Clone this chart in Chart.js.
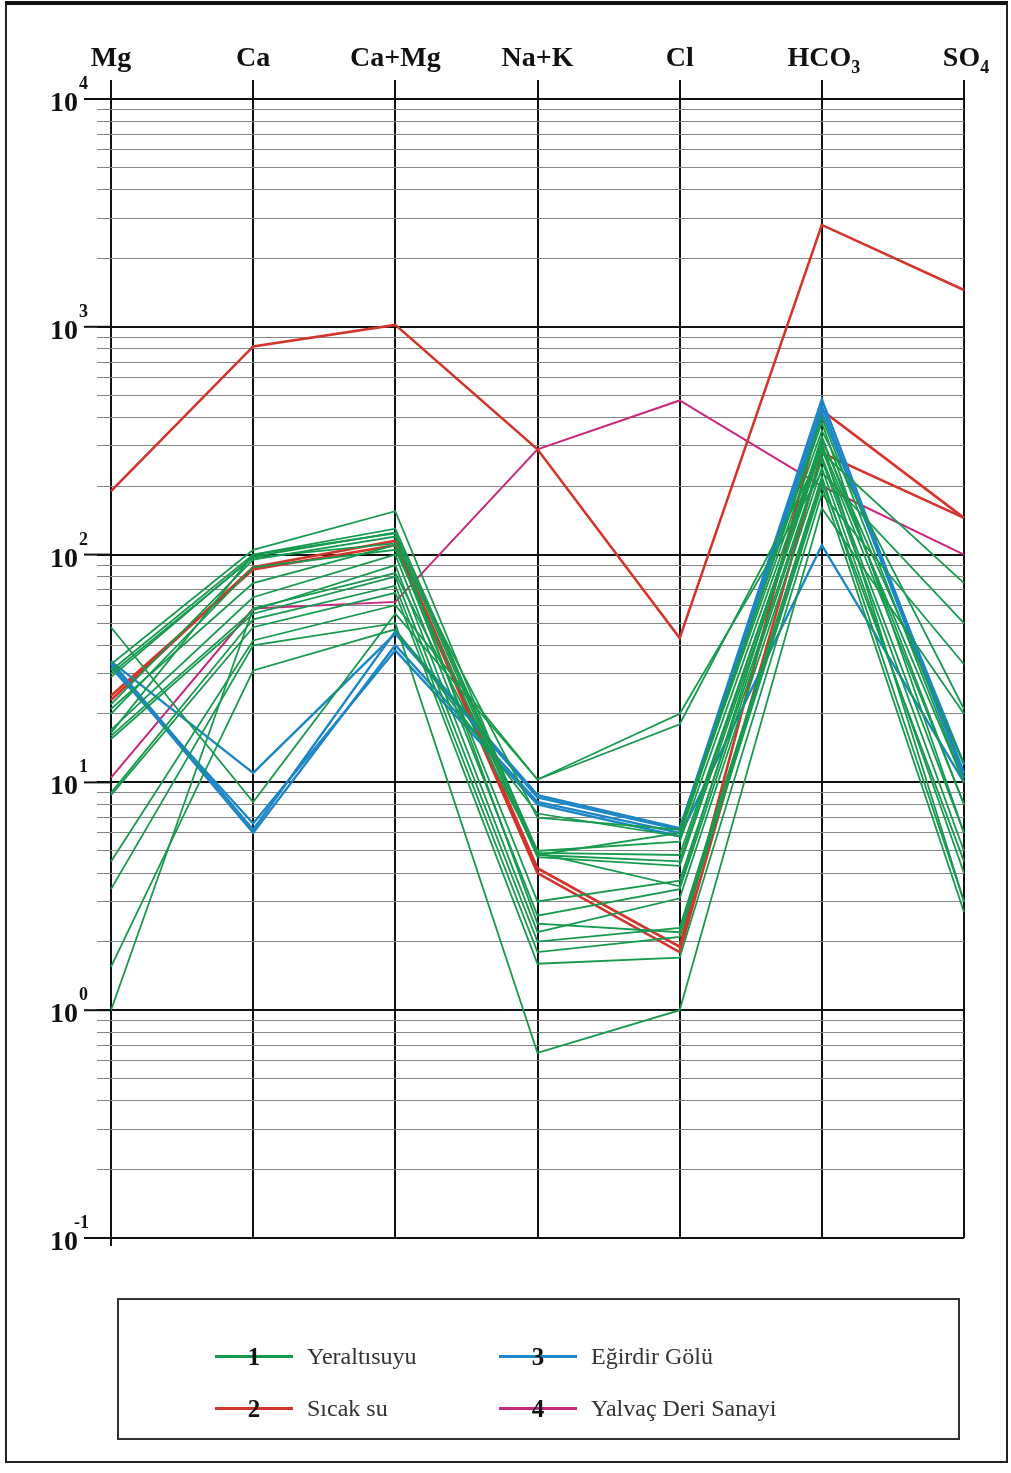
<!DOCTYPE html>
<html>
<head>
<meta charset="utf-8">
<script src="https://cdn.jsdelivr.net/npm/chart.js@4.4.0/dist/chart.umd.min.js"></script>
<style>
  body { margin: 0; background: #fff; }
  #page { position: relative; width: 1011px; height: 1473px; overflow: hidden; background: #fff; }
  #frame { position: absolute; left: 5px; top: 1px; width: 1003px; height: 1462px;
           border: 2px solid #222; border-top: 4px solid #111; box-sizing: border-box; }
  #chart { position: absolute; left: 0; top: 0; }
  #legend { position: absolute; left: 117px; top: 1298px; width: 843px; height: 142px;
            border: 2px solid #333; box-sizing: border-box; font-family: "Liberation Serif", serif; }
  .item { position: absolute; height: 30px; }
  .item .ln { position: absolute; top: 13px; left: 0; width: 78px; height: 3px; }
  .item .num { position: absolute; left: 24px; top: 1px; width: 30px; text-align: center;
               font-weight: bold; font-size: 25px; line-height: 28px; color: #111; }
  .item .txt { position: absolute; left: 92px; top: 0px; font-size: 24px; line-height: 28px; color: #333; white-space: nowrap; }
</style>
</head>
<body>
<div id="page">
  <canvas id="chart" width="1011" height="1290"></canvas>
  <div id="frame"></div>
  <div id="legend"></div>
</div>
<script>
// Schoeller diagram, values in meq/l
const categories = ['Mg', 'Ca', 'Ca+Mg', 'Na+K', 'Cl', 'HCO3', 'SO4'];
const decades = [-1, 0, 1, 2, 3, 4];

// 1 - Yeraltısuyu (groundwater)
const yeraltisuyu = [
  [48, 8.2, 55, 10.3, 20, 230, 50],
  [33, 105, 155, 4.8, 6.0, 350, 21],
  [31, 100, 130, 5.0, 5.5, 320, 12],
  [29, 98, 125, 4.9, 4.8, 300, 10],
  [22, 95, 120, 4.7, 4.3, 290, 8],
  [21, 75, 110, 3.0, 3.7, 270, 6],
  [17, 65, 100, 2.6, 3.4, 260, 5],
  [16, 57, 90, 2.2, 3.1, 240, 4],
  [15.5, 55, 80, 2.0, 2.3, 220, 3],
  [9, 52, 73, 1.8, 2.1, 200, 2.7],
  [8.8, 48, 68, 1.6, 1.7, 185, 33],
  [4.5, 42, 60, 10.3, 18, 280, 75],
  [3.4, 40, 50, 0.65, 1.0, 160, 20],
  [1.55, 31, 47, 7.3, 5.8, 400, 10],
  [1.0, 58, 83, 4.9, 3.5, 330, 8],
  [30, 97, 112, 7.0, 6.2, 380, 6],
  [16.5, 100, 124, 2.4, 2.2, 210, 4.5],
  [20, 88, 105, 4.8, 4.5, 310, 3]
];
// 2 - Sıcak su (hot spring)
const sicakSu = [
  [190, 820, 1020, 290, 43, 2800, 1450],
  [23, 88, 115, 4.2, 1.9, 430, 145],
  [24, 86, 110, 4.0, 1.8, 280, 145]
];
// 3 - Eğirdir Gölü (lake)
const egirdirGolu = [
  [34, 11, 45, 8.6, 6.2, 480, 11],
  [33, 6.0, 40, 8.2, 6.0, 450, 10.5],
  [32, 6.6, 38, 8.0, 5.8, 110, 10],
  [34, 6.2, 46, 8.8, 6.3, 420, 12]
];
// 4 - Yalvaç Deri Sanayi (tannery)
const yalvacDeri = [
  [10.5, 58, 62, 290, 475, 200, 100]
];

const groups = [
  {num: '1', name: 'Yeraltısuyu', rows: yeraltisuyu, color: '#179a4e', width: 1.8},
  {num: '3', name: 'Eğirdir Gölü', rows: egirdirGolu, color: '#1d86c6', width: 2.4},
  {num: '2', name: 'Sıcak su', rows: sicakSu, color: '#d2352b', width: 2.6},
  {num: '4', name: 'Yalvaç Deri Sanayi', rows: yalvacDeri, color: '#c7297c', width: 2}
];

const datasets = [];
groups.forEach(g => {
  g.rows.forEach(r => {
    datasets.push({label: g.name, data: r, borderColor: g.color, borderWidth: g.width,
                   pointRadius: 0, tension: 0, fill: false});
  });
});

function isMajor(v){ return Math.abs(Math.log10(v) - Math.round(Math.log10(v))) < 1e-6; }

const labelPlugin = {
  id: 'schoellerLabels',
  afterDraw(chart){
    const ctx = chart.ctx;
    const xs = chart.scales.x, ys = chart.scales.y;
    ctx.save();
    ctx.fillStyle = '#111';
    ctx.textBaseline = 'alphabetic';
    // column headers
    categories.forEach((c, i) => {
      const x = xs.getPixelForTick(i);
      const m = c.match(/^(.*?)(\d)$/);
      ctx.font = 'bold 28px "Liberation Serif"';
      if (m) {
        const w1 = ctx.measureText(m[1]).width;
        ctx.font = 'bold 18px "Liberation Serif"';
        const w2 = ctx.measureText(m[2]).width;
        const x0 = x - (w1 + w2) / 2 + 2;
        ctx.font = 'bold 28px "Liberation Serif"';
        ctx.textAlign = 'left';
        ctx.fillText(m[1], x0, 66);
        ctx.font = 'bold 18px "Liberation Serif"';
        ctx.fillText(m[2], x0 + w1, 73);
      } else {
        ctx.textAlign = 'center';
        ctx.fillText(c, x, 66);
      }
    });
    // decade labels and longer major ticks
    decades.forEach(e => {
      const y = ys.getPixelForValue(Math.pow(10, e));
      ctx.strokeStyle = '#111';
      ctx.lineWidth = 2;
      ctx.beginPath();
      ctx.moveTo(84, y);
      ctx.lineTo(xs.left, y);
      ctx.stroke();
      ctx.font = 'bold 28px "Liberation Serif"';
      ctx.textAlign = 'right';
      ctx.fillText('10', 78, y + 12);
      ctx.font = 'bold 18px "Liberation Serif"';
      ctx.textAlign = 'left';
      ctx.fillText(String(e), e < 0 ? 74 : 79, y - 10);
    });
    // Mg axis runs a little past the bottom line
    ctx.strokeStyle = '#111';
    ctx.lineWidth = 2;
    ctx.beginPath();
    ctx.moveTo(xs.left, ys.bottom);
    ctx.lineTo(xs.left, ys.bottom + 8);
    ctx.stroke();
    ctx.restore();
  }
};

new Chart(document.getElementById('chart'), {
  type: 'line',
  data: {labels: categories, datasets: datasets},
  options: {
    responsive: false,
    animation: false,
    devicePixelRatio: 1,
    layout: {padding: {left: 0, top: 0, right: 47, bottom: 52}},
    plugins: {legend: {display: false}, tooltip: {enabled: false}},
    scales: {
      x: {
        type: 'category',
        position: 'top',
        offset: false,
        afterFit(scale){ scale.height = 99; },
        border: {display: false},
        ticks: {display: false},
        grid: {color: '#111', lineWidth: 2, drawTicks: true, tickLength: 19, tickColor: '#111', offset: false}
      },
      y: {
        type: 'logarithmic',
        min: 0.1,
        max: 10000,
        afterFit(scale){ scale.width = 111; },
        afterBuildTicks(scale){
          const t = [];
          decades.slice(0, -1).forEach(e => {
            for (let k = 1; k <= 9; k++) t.push({value: k * Math.pow(10, e)});
          });
          t.push({value: 10000});
          scale.ticks = t;
        },
        border: {display: false},
        ticks: {display: false},
        grid: {
          drawTicks: true,
          tickLength: 14,
          color: c => isMajor(c.tick.value) ? '#111' : '#858585',
          tickColor: c => isMajor(c.tick.value) ? '#111' : '#858585',
          lineWidth: c => isMajor(c.tick.value) ? 2 : 1
        }
      }
    }
  },
  plugins: [labelPlugin]
});

// legend
const legend = document.getElementById('legend');
const legendPos = [
  {left: 96, top: 42}, {left: 380, top: 42}, {left: 96, top: 94}, {left: 380, top: 94}
];
groups.forEach((g, i) => {
  const d = document.createElement('div');
  d.className = 'item';
  d.style.left = legendPos[i].left + 'px';
  d.style.top = legendPos[i].top + 'px';
  d.innerHTML = '<div class="ln" style="background:' + g.color + '"></div>' +
                '<div class="num">' + g.num + '</div>' +
                '<div class="txt">' + g.name + '</div>';
  legend.appendChild(d);
});
</script>
</body>
</html>
